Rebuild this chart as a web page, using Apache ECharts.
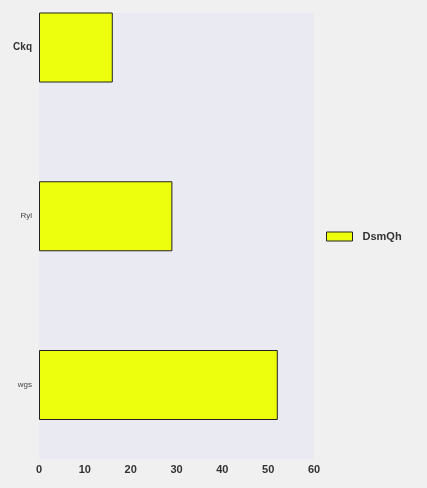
<!DOCTYPE html>
<html><head><meta charset="utf-8">
<script src="https://cdn.jsdelivr.net/npm/echarts@6/dist/echarts.min.js"></script>
<style>html,body{margin:0;padding:0;background:#f0f0f0}#c{width:427px;height:488px}</style>
</head><body><div id="c"></div>
<script>
var categories = ['Ckq', 'Ryl', 'wgs'];
var values = [16.1, 29.1, 52.1];
var seriesName = 'DsmQh';
var xTicks = [0, 10, 20, 30, 40, 50, 60];

var chart = echarts.init(document.getElementById('c'));
chart.setOption({
  backgroundColor: '#f0f0f0',
  animation: false,
  grid: [
    {left: 39, right: 113, top: 13, bottom: 29, show: true, backgroundColor: '#eaeaf2', borderWidth: 0},
    {left: 39, right: 113, top: 47.5, height: 337.5}
  ],
  xAxis: [
    {gridIndex: 0, type: 'value', min: xTicks[0], max: xTicks[xTicks.length-1], interval: 10,
     axisLine: {show: false}, axisTick: {show: false}, splitLine: {show: false},
     axisLabel: {margin: 5, fontFamily: 'Liberation Sans', fontWeight: 'bold', fontSize: 11, color: '#333'}},
    {gridIndex: 1, type: 'value', min: xTicks[0], max: xTicks[xTicks.length-1], show: false}
  ],
  yAxis: [
    {gridIndex: 0, type: 'category', data: categories, show: false},
    {gridIndex: 1, type: 'category', data: categories, inverse: true, boundaryGap: false,
     axisLine: {show: false}, axisTick: {show: false}, splitLine: {show: false},
     axisLabel: {margin: 7, fontFamily: 'Liberation Sans', fontSize: 8, color: '#444',
       formatter: function (v) { return v === 'Ckq' ? '{b|' + v + '}' : v; },
       rich: {b: {fontFamily: 'Liberation Sans', fontWeight: 'bold', fontSize: 10, color: '#333'}}}}
  ],
  legend: {
    left: 326, top: 231, padding: 0, orient: 'vertical', itemWidth: 26, itemHeight: 9, itemGap: 10,
    itemStyle: {borderWidth: 1, borderColor: '#222'},
    textStyle: {fontFamily: 'Liberation Sans', fontWeight: 'bold', fontSize: 11, color: '#333', padding: [0, 0, 0, 5]},
    data: [{name: seriesName, icon: 'rect'}]
  },
  series: [{
    name: seriesName, type: 'bar', xAxisIndex: 1, yAxisIndex: 1, barWidth: 70,
    data: values,
    itemStyle: {color: '#eeff0e', borderColor: '#222', borderWidth: 1}
  }]
});
</script></body></html>
